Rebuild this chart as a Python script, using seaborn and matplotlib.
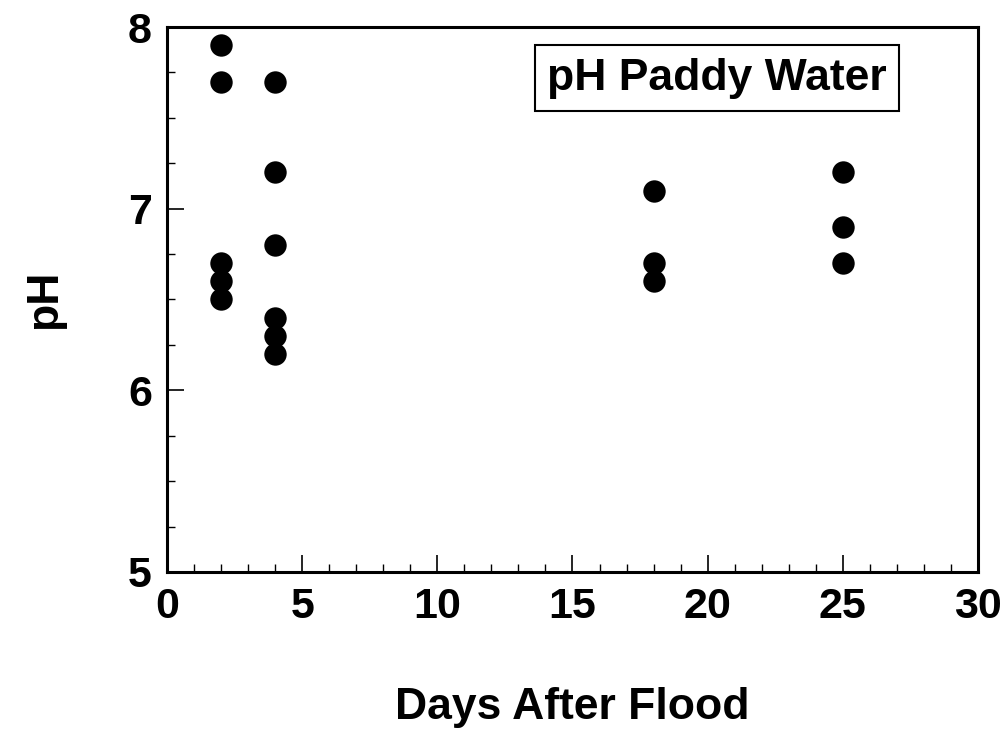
import matplotlib
matplotlib.use("Agg")
import matplotlib.pyplot as plt
import seaborn as sns
import pandas as pd
from matplotlib.ticker import MultipleLocator

# days after flood and paddy water pH readings
days = [2, 2, 2, 2, 2,
        4, 4, 4, 4, 4, 4,
        18, 18, 18,
        25, 25, 25]
ph = [7.9, 7.7, 6.7, 6.6, 6.5,
      7.7, 7.2, 6.8, 6.4, 6.3, 6.2,
      7.1, 6.7, 6.6,
      7.2, 6.9, 6.7]

df = pd.DataFrame({"Days": days, "pH": ph})

sns.set_style("white")
plt.rcParams['font.family'] = ['Liberation Sans', 'DejaVu Sans']
plt.rcParams['font.weight'] = 'bold'
plt.rcParams['text.color'] = 'black'
plt.rcParams['axes.labelcolor'] = 'black'
plt.rcParams['xtick.color'] = 'black'
plt.rcParams['ytick.color'] = 'black'

fig = plt.figure(figsize=(10.05, 7.32), dpi=100)
ax = fig.add_axes([0.1662, 0.2186, 0.8069, 0.7445])

sns.scatterplot(data=df, x="Days", y="pH", ax=ax, color="black",
                s=260, edgecolor="black", linewidth=0, zorder=3, clip_on=False)

ax.set_xlim(0, 30)
ax.set_ylim(5, 8)
ax.xaxis.set_major_locator(MultipleLocator(5))
ax.xaxis.set_minor_locator(MultipleLocator(1))
ax.yaxis.set_major_locator(MultipleLocator(1))
ax.yaxis.set_minor_locator(MultipleLocator(0.25))

ax.tick_params(which="major", direction="in", length=12, width=1.2,
               labelsize=31, pad=11, bottom=True, left=True, top=False, right=False)
ax.tick_params(which="minor", direction="in", length=6, width=1.0,
               bottom=True, left=True, top=False, right=False)
for lab in ax.get_xticklabels() + ax.get_yticklabels():
    lab.set_fontweight("bold")

for sp in ax.spines.values():
    sp.set_visible(True)
    sp.set_color("black")
    sp.set_linewidth(2.2)

ax.set_xlabel("Days After Flood", fontsize=32, fontweight="bold", labelpad=43)
ax.set_ylabel("pH", fontsize=32, fontweight="bold", labelpad=45)

ax.text(0.678, 0.906, "pH Paddy Water", transform=ax.transAxes,
        ha="center", va="center", fontsize=32, fontweight="bold",
        bbox=dict(boxstyle="square,pad=0.28", facecolor="white",
                  edgecolor="black", linewidth=1.5))

fig.savefig("out.png", dpi=100)
